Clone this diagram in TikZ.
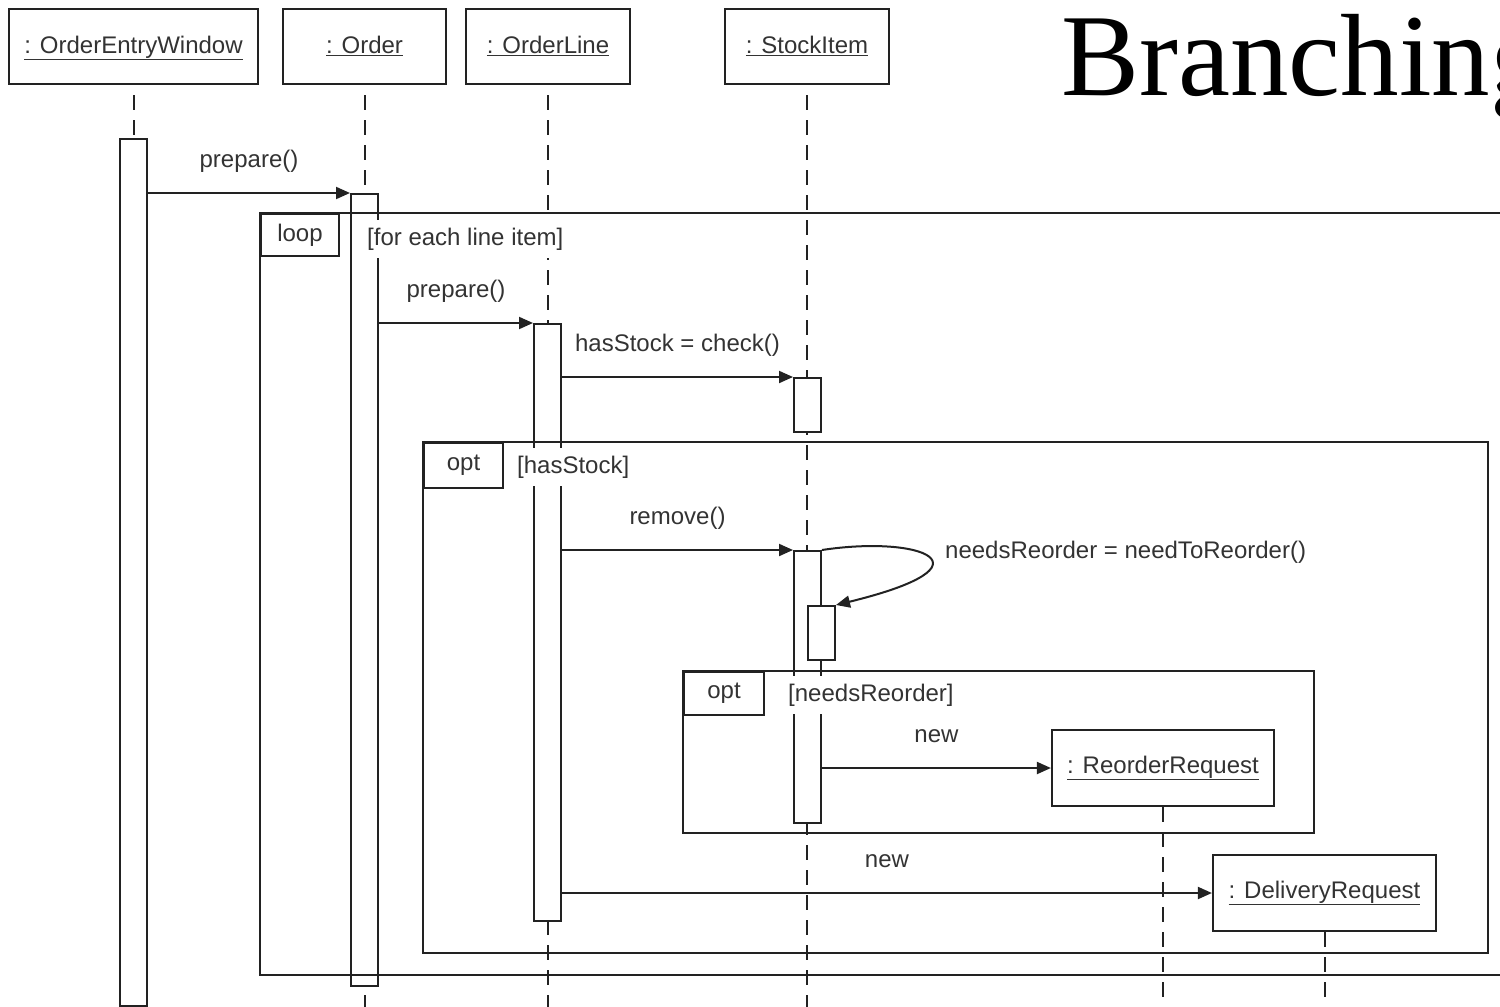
\documentclass[tikz,border=0pt]{standalone}
\usepackage{fontspec}
\setmainfont{Liberation Sans}
\newfontfamily\titlefont{Liberation Serif}
\usetikzlibrary{arrows.meta}
\definecolor{ink}{HTML}{222222}
\definecolor{txt}{HTML}{333333}
\begin{document}
\begin{tikzpicture}[x=1pt,y=-1pt,
  every node/.style={font=\fontsize{24}{28}\selectfont, text=txt},
  hdr/.style={draw=ink, line width=2.2pt, fill=white, anchor=north, minimum height=75pt,
              inner xsep=0pt, inner ysep=8pt, text height=36pt, text depth=23pt},
  obj/.style={draw=ink, line width=2.2pt, fill=white, minimum height=76pt, inner sep=0pt},
  lifeline/.style={draw=ink, line width=2pt, dash pattern=on 15pt off 10pt},
  bar/.style={draw=ink, line width=2pt, fill=white, minimum width=27pt, anchor=north, inner sep=0pt},
  msg/.style={draw=ink, line width=2pt, -{Triangle[length=14pt,width=12pt]}},
  lbl/.style={anchor=base, yshift=25.5pt, inner sep=0pt},
  frame/.style={draw=ink, line width=2pt},
  tag/.style={draw=ink, line width=2pt, fill=white, inner sep=0pt, anchor=north west},
  guard/.style={fill=white, anchor=base west, inner xsep=2pt, inner ysep=6pt, text height=19pt, text depth=7pt}
]
\useasboundingbox (0,0) rectangle (1500,1007);
\clip (0,0) rectangle (1500,1007);
\coordinate (bottom) at (0,1012);

% title
\node[anchor=base west, inner sep=0pt, text=black, font=\titlefont\fontsize{117}{120}\selectfont] (title) at (1061,95) {Branching};

% headers
\node[hdr, minimum width=249pt] (hOEW) at (133.5,8) {\underline{: OrderEntryWindow}};
\node[hdr, minimum width=163pt] (hOrd) at (364.5,8) {\underline{: Order}};
\node[hdr, minimum width=164pt] (hLine) at (548,8) {\underline{: OrderLine}};
\node[hdr, minimum width=164pt] (hStock) at (807,8) {\underline{: StockItem}};

% lifelines
\draw[lifeline, dash phase=15pt] (hOEW.south) -- (hOEW.south |- bottom);
\draw[lifeline, dash phase=15pt] (hOrd.south) -- (hOrd.south |- bottom);
\draw[lifeline, dash phase=15pt] (hLine.south) -- (hLine.south |- bottom);
\draw[lifeline, dash phase=15pt] (hStock.south) -- (hStock.south |- bottom);

% created objects
\node[obj, minimum width=222pt] (rr) at (1163,768) {\underline{: ReorderRequest}};
\node[obj, minimum width=223pt] (dr) at (1324.5,893) {\underline{: DeliveryRequest}};
\draw[lifeline] (rr.south) -- (rr.south |- bottom);
\draw[lifeline] (dr.south) -- (dr.south |- bottom);

% activation bars
\node[bar, minimum height=867pt] (b1) at (133.5,138) {};
\node[bar, minimum height=792pt] (b2) at (364.5,193) {};
\node[bar, minimum height=597pt] (b3) at (547.5,323) {};
\node[bar, minimum height=54pt] (b4) at (807.5,377) {};
\node[bar, minimum height=272pt] (b5) at (807.5,550) {};
\node[bar, minimum height=54pt] (b6) at (821.5,605) {};

% frames
\draw[frame] (260,213) rectangle (1530,975);
\node[tag, minimum width=78pt, minimum height=42pt] (tLoop) at (260,213) {loop};
\node[guard] (gLoop) at (365,245) {[for each line item]};

\draw[frame] (423,442) rectangle (1488,953);
\node[tag, minimum width=79pt, minimum height=45pt] (tOpt1) at (423,442) {opt};
\node[guard] (gOpt1) at (515,473) {[hasStock]};

\draw[frame] (683,671) rectangle (1314,833);
\node[tag, minimum width=80pt, minimum height=43pt] (tOpt2) at (683,671) {opt};
\node[guard] (gOpt2) at (786,701) {[needsReorder]};

% messages
\draw[msg] ([yshift=-55pt]b1.north east) -- (b2.north west) node[lbl, midway] (m1) {prepare()};
\draw[msg] ([yshift=-130pt]b2.north east) -- (b3.north west) node[lbl, midway] (m2) {prepare()};
\draw[msg] ([yshift=-54pt]b3.north east) -- (b4.north west) node[lbl, midway] (m3) {hasStock = check()};
\draw[msg] ([yshift=-227pt]b3.north east) -- (b5.north west) node[lbl, midway] (m4) {remove()};
\draw[msg] (b5.north east) .. controls (920,535) and (1000,565) .. (b6.north east);
\node[anchor=base west, inner sep=0pt] (m5) at (945,558) {needsReorder = needToReorder()};
\draw[msg] ([yshift=-218pt]b5.north east) -- (rr.west) node[lbl, midway] (m6) {new};
\draw[msg] ([yshift=-570pt]b3.north east) -- (dr.west) node[lbl, midway] (m7) {new};
\end{tikzpicture}
\end{document}
